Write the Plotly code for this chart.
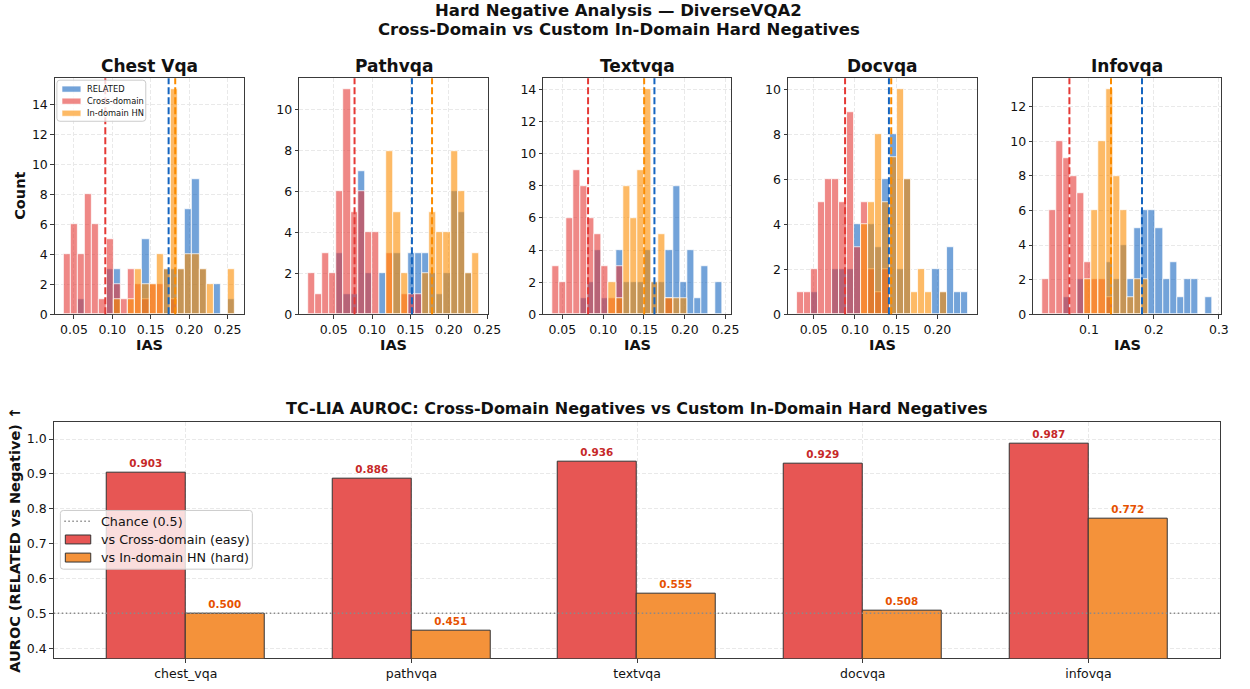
import plotly.graph_objects as go

W, H = 1250, 689
FONT = "DejaVu Sans"

# ---------------------------------------------------------------- data
DATASETS = ["chest_vqa", "pathvqa", "textvqa", "docvqa", "infovqa"]
PANEL_TITLES = ["Chest Vqa", "Pathvqa", "Textvqa", "Docvqa", "Infovqa"]

# TC-LIA AUROC (RELATED vs negative)
AUROC_CROSS = [0.903, 0.886, 0.936, 0.929, 0.987]
AUROC_HARD = [0.500, 0.451, 0.555, 0.508, 0.772]
CHANCE = 0.5

# IAS histograms: 24 equal-width bins between min and max per dataset
N_BINS = 24
IAS_BIN_MIN = [0.0363, 0.0161, 0.0371, 0.0292, 0.0275]
IAS_BIN_MAX = [0.2599, 0.2398, 0.2464, 0.2373, 0.2904]

COUNTS_RELATED = [
    [0, 0, 1, 0, 0, 0, 3, 3, 0, 0, 0, 5, 0, 0, 3, 3, 3, 7, 9, 3, 0, 2, 0, 1],
    [0, 0, 0, 0, 3, 1, 1, 7, 2, 0, 2, 0, 3, 0, 3, 3, 3, 2, 1, 2, 6, 5, 2, 0],
    [0, 0, 0, 0, 1, 2, 4, 1, 0, 4, 2, 2, 2, 4, 2, 2, 4, 8, 2, 4, 1, 3, 0, 2],
    [0, 0, 1, 0, 0, 2, 2, 2, 4, 0, 4, 3, 6, 8, 2, 6, 0, 0, 0, 2, 1, 3, 1, 1],
    [0, 0, 0, 1, 0, 2, 0, 0, 0, 3, 2, 4, 2, 5, 6, 6, 5, 2, 3, 1, 2, 2, 0, 1],
]
COUNTS_CROSS = [
    [4, 6, 4, 8, 6, 1, 5, 2, 1, 3, 2, 1, 2, 2, 0, 1, 0, 0, 0, 0, 0, 0, 0, 0],
    [2, 1, 3, 2, 6, 11, 5, 6, 4, 4, 0, 3, 0, 1, 1, 1, 0, 0, 0, 0, 0, 0, 0, 0],
    [3, 2, 6, 9, 8, 6, 5, 3, 1, 3, 0, 0, 0, 0, 0, 0, 1, 0, 0, 0, 0, 0, 0, 0],
    [1, 1, 2, 5, 6, 6, 5, 9, 3, 5, 2, 1, 2, 0, 0, 0, 0, 0, 0, 0, 0, 0, 0, 0],
    [2, 6, 10, 9, 8, 7, 3, 2, 2, 1, 0, 0, 0, 0, 0, 0, 0, 0, 0, 0, 0, 0, 0, 0],
]
COUNTS_HARD = [
    [0, 0, 0, 0, 0, 0, 0, 1, 0, 1, 3, 2, 2, 4, 3, 15, 3, 4, 4, 3, 2, 0, 0, 3],
    [0, 0, 0, 0, 0, 0, 0, 0, 0, 0, 0, 8, 5, 2, 0, 0, 2, 5, 4, 4, 8, 6, 2, 3],
    [0, 0, 0, 0, 0, 0, 0, 0, 2, 1, 8, 6, 9, 14, 2, 5, 1, 1, 1, 0, 0, 0, 0, 0],
    [0, 0, 0, 0, 0, 0, 0, 0, 0, 4, 5, 8, 5, 7, 10, 6, 1, 2, 1, 0, 1, 0, 0, 0],
    [0, 0, 0, 0, 0, 0, 2, 6, 10, 13, 8, 6, 1, 2, 2, 0, 0, 0, 0, 0, 0, 0, 0, 0],
]

# group mean IAS (dashed lines)
MEAN_RELATED = [0.1732, 0.1519, 0.1628, 0.1412, 0.1817]
MEAN_CROSS = [0.0908, 0.0771, 0.0815, 0.0880, 0.0700]
MEAN_HARD = [0.1818, 0.1781, 0.1502, 0.1440, 0.1340]

X_TICKS = [
    [0.05, 0.10, 0.15, 0.20, 0.25],
    [0.05, 0.10, 0.15, 0.20, 0.25],
    [0.05, 0.10, 0.15, 0.20, 0.25],
    [0.05, 0.10, 0.15, 0.20],
    [0.1, 0.2, 0.3],
]
X_TICK_LABELS = [
    ["0.05", "0.10", "0.15", "0.20", "0.25"],
    ["0.05", "0.10", "0.15", "0.20", "0.25"],
    ["0.05", "0.10", "0.15", "0.20", "0.25"],
    ["0.05", "0.10", "0.15", "0.20"],
    ["0.1", "0.2", "0.3"],
]
AUROC_TICKS = [0.4, 0.5, 0.6, 0.7, 0.8, 0.9, 1.0]
AUROC_TICK_LABELS = ["0.4", "0.5", "0.6", "0.7", "0.8", "0.9", "1.0"]

# ---------------------------------------------------------------- style
C_REL = (21, 101, 192)
C_CROSS = (229, 57, 53)
C_HARD = (251, 140, 0)
HIST_ALPHA = 0.6

BAR_RED = "#e75654"
BAR_ORANGE = "#f4923a"
LABEL_RED = "#c62828"
LABEL_ORANGE = "#e65100"
CHANCE_COLOR = "#8a8a8a"

GRID = "#e9e9e9"
GRID_DASH = "4px,2px"
SPINE = "#3a3a3a"
TEXT = "#111111"


def rgba(c, a):
    return f"rgba({c[0]},{c[1]},{c[2]},{a})"


def px(x, y):
    """pixel position -> paper coordinates"""
    return x / W, 1 - y / H


# axes boxes in pixels
HIST_X_PX = [(55.4, 246.4), (302.3, 493.1), (549.0, 738.9), (796.3, 987.0), (1044.1, 1234.0)]
HIST_Y_PX = (79.0, 317.5)     # top, bottom
BAR_X_PX = (54.3, 1233.3)
BAR_Y_PX = (426.0, 665.0)


def xdom(p):
    return [p[0] / W, p[1] / W]


def ydom(top, bottom):
    return [1 - bottom / H, 1 - top / H]


def axis_style():
    return dict(
        showgrid=True, gridcolor=GRID, griddash=GRID_DASH, gridwidth=0.8,
        showline=True, mirror=True, linecolor=SPINE, linewidth=1,
        ticks="outside", ticklen=3.5, tickcolor=SPINE, tickwidth=0.8,
        zeroline=False, tickfont=dict(size=12.5), layer="below traces",
    )


fig = go.Figure()
layout = dict(
    width=W, height=H,
    margin=dict(l=0, r=0, t=0, b=0),
    paper_bgcolor="white", plot_bgcolor="white",
    font=dict(family=FONT, size=12.5, color=TEXT),
    barmode="overlay", bargap=0, showlegend=False,
)

annotations = []
shapes = []

series = [
    ("RELATED", COUNTS_RELATED, C_REL, MEAN_RELATED),
    ("Cross-domain", COUNTS_CROSS, C_CROSS, MEAN_CROSS),
    ("In-domain HN", COUNTS_HARD, C_HARD, MEAN_HARD),
]

for k in range(5):
    ax = "" if k == 0 else str(k + 1)
    lo, hi = IAS_BIN_MIN[k], IAS_BIN_MAX[k]
    bw = (hi - lo) / N_BINS
    centers = [lo + bw * (i + 0.5) for i in range(N_BINS)]
    ymax = 0
    for name, counts, col, _ in series:
        ys = [c if c > 0 else None for c in counts[k]]
        ymax = max(ymax, max(counts[k]))
        fig.add_trace(go.Bar(
            x=centers, y=ys, width=bw, name=name,
            marker=dict(color=rgba(col, HIST_ALPHA),
                        line=dict(color="rgba(255,255,255,0.85)", width=0.9)),
            xaxis="x" + ax, yaxis="y" + ax, hoverinfo="skip",
        ))
    # dashed group means
    for name, _, col, means in series:
        shapes.append(dict(
            type="line", xref="x" + ax, yref=f"y{ax} domain",
            x0=means[k], x1=means[k], y0=0, y1=1,
            line=dict(color=rgba(col, 1), width=2, dash="7px,3px"),
            layer="above",
        ))

    pad = 0.05 * (hi - lo)
    layout["xaxis" + ax] = dict(
        domain=xdom(HIST_X_PX[k]), anchor="y" + ax,
        range=[lo - pad, hi + pad],
        tickvals=X_TICKS[k], ticktext=X_TICK_LABELS[k], **axis_style(),
    )
    layout["yaxis" + ax] = dict(
        domain=ydom(*HIST_Y_PX), anchor="x" + ax,
        range=[0, ymax * 1.05], dtick=2, tick0=0, **axis_style(),
    )
    cx = (HIST_X_PX[k][0] + HIST_X_PX[k][1]) / 2 / W
    annotations.append(dict(
        text=f"<b>{PANEL_TITLES[k]}</b>", x=cx, y=1 - 67 / H,
        xref="paper", yref="paper", showarrow=False,
        xanchor="center", yanchor="middle", font=dict(size=17),
    ))
    annotations.append(dict(
        text="<b>IAS</b>", x=cx, y=1 - 349 / H,
        xref="paper", yref="paper", showarrow=False,
        xanchor="center", yanchor="middle", font=dict(size=14.5),
    ))

annotations.append(dict(
    text="<b>Count</b>", x=20 / W, y=1 - 198 / H, textangle=-90,
    xref="paper", yref="paper", showarrow=False,
    xanchor="center", yanchor="middle", font=dict(size=14.5),
))

# ---------------------------------------------------------------- AUROC bars
BW = 0.35
idx = list(range(len(DATASETS)))
span = len(idx) - 1 + 2 * BW
x_lo = -BW - 0.05 * span
x_hi = len(idx) - 1 + BW + 0.05 * span

fig.add_trace(go.Scatter(
    x=[x_lo, x_hi], y=[CHANCE, CHANCE], mode="lines", name="Chance (0.5)",
    line=dict(color=CHANCE_COLOR, width=1.5, dash="1.5px,2.5px"),
    xaxis="x6", yaxis="y6", hoverinfo="skip",
))
fig.add_trace(go.Bar(
    x=[i - BW / 2 for i in idx], y=AUROC_CROSS, width=BW,
    name="vs Cross-domain (easy)",
    marker=dict(color=BAR_RED, line=dict(color="#333333", width=1)),
    texttemplate="<b>%{y:.3f}</b>", textposition="outside",
    textfont=dict(color=LABEL_RED, size=10.4), cliponaxis=False,
    xaxis="x6", yaxis="y6", hoverinfo="skip",
))
fig.add_trace(go.Bar(
    x=[i + BW / 2 for i in idx], y=AUROC_HARD, width=BW,
    name="vs In-domain HN (hard)",
    marker=dict(color=BAR_ORANGE, line=dict(color="#333333", width=1)),
    texttemplate="<b>%{y:.3f}</b>", textposition="outside",
    textfont=dict(color=LABEL_ORANGE, size=10.4), cliponaxis=False,
    xaxis="x6", yaxis="y6", hoverinfo="skip",
))

layout["xaxis6"] = dict(
    domain=xdom(BAR_X_PX), anchor="y6", range=[x_lo, x_hi],
    tickvals=idx, ticktext=DATASETS, **axis_style(),
)
layout["yaxis6"] = dict(
    domain=ydom(*BAR_Y_PX), anchor="x6",
    range=[min(AUROC_HARD + AUROC_CROSS) - 0.08, 1.05],
    tickvals=AUROC_TICKS, ticktext=AUROC_TICK_LABELS, **axis_style(),
)

annotations.append(dict(
    text="<b>TC-LIA AUROC: Cross-Domain Negatives vs Custom In-Domain Hard Negatives</b>",
    x=(BAR_X_PX[0] + BAR_X_PX[1]) / 2 / W, y=1 - 413 / H,
    xref="paper", yref="paper", showarrow=False,
    xanchor="center", yanchor="middle", font=dict(size=16),
))
annotations.append(dict(
    text="<b>AUROC (RELATED vs Negative) ↑</b>", x=15 / W,
    y=1 - (BAR_Y_PX[0] + BAR_Y_PX[1]) / 2 / H, textangle=-90,
    xref="paper", yref="paper", showarrow=False,
    xanchor="center", yanchor="middle", font=dict(size=14.5),
))

# ---------------------------------------------------------------- figure title
annotations.append(dict(
    text="<b>Hard Negative Analysis — DiverseVQA2</b>", x=0.5, y=1 - 11 / H,
    xref="paper", yref="paper", showarrow=False,
    xanchor="center", yanchor="middle", font=dict(size=16.5),
))
annotations.append(dict(
    text="<b>Cross-Domain vs Custom In-Domain Hard Negatives</b>", x=0.5, y=1 - 30 / H,
    xref="paper", yref="paper", showarrow=False,
    xanchor="center", yanchor="middle", font=dict(size=16.5),
))


# ---------------------------------------------------------------- legends
def legend_box(x0, y0, x1, y1, r=3):
    ax0, ay0 = px(x0, y0)
    ax1, ay1 = px(x1, y1)
    rx, ry = r / W, r / H
    path = (f"M {ax0 + rx},{ay0} L {ax1 - rx},{ay0} Q {ax1},{ay0} {ax1},{ay0 - ry} "
            f"L {ax1},{ay1 + ry} Q {ax1},{ay1} {ax1 - rx},{ay1} "
            f"L {ax0 + rx},{ay1} Q {ax0},{ay1} {ax0},{ay1 + ry} "
            f"L {ax0},{ay0 - ry} Q {ax0},{ay0} {ax0 + rx},{ay0} Z")
    return dict(type="path", xref="paper", yref="paper", path=path,
                fillcolor="rgba(255,255,255,0.8)",
                line=dict(color="#cccccc", width=1), layer="above")


def legend_patch(x0, x1, yc, h, fill, edge, ew):
    a0, b0 = px(x0, yc - h / 2)
    a1, b1 = px(x1, yc + h / 2)
    return dict(type="rect", xref="paper", yref="paper",
                x0=a0, x1=a1, y0=b1, y1=b0, fillcolor=fill,
                line=dict(color=edge, width=ew), layer="above")


def legend_text(text, x, yc, size):
    a, b = px(x, yc)
    return dict(text=text, x=a, y=b, xref="paper", yref="paper",
                showarrow=False, xanchor="left", yanchor="middle",
                font=dict(size=size))


# histogram legend (first panel)
shapes.append(legend_box(57.5, 81.0, 147.3, 122.5))
for j, (name, _, col, _) in enumerate(series):
    yc = 90.0 + j * 12.2
    shapes.append(legend_patch(62.7, 81.7, yc, 6.0, rgba(col, HIST_ALPHA),
                               "rgba(255,255,255,0.85)", 0.6))
    annotations.append(legend_text(name, 85.5, yc, 8.3))

# AUROC legend
shapes.append(legend_box(61.0, 515.7, 255.0, 575.0))
ya = 526.7
la, lb = px(65.0, ya)
lc, _ = px(91.7, ya)
shapes.append(dict(type="line", xref="paper", yref="paper", x0=la, x1=lc, y0=lb, y1=lb,
                   line=dict(color=CHANCE_COLOR, width=1.5, dash="1.5px,2.5px"),
                   layer="above"))
annotations.append(legend_text("Chance (0.5)", 100.5, ya, 12.7))
for yc, fill, label in [(545.0, BAR_RED, "vs Cross-domain (easy)"),
                        (563.3, BAR_ORANGE, "vs In-domain HN (hard)")]:
    shapes.append(legend_patch(66.0, 91.7, yc, 9.0, fill, "#333333", 1))
    annotations.append(legend_text(label, 100.5, yc, 12.7))

layout["annotations"] = annotations
layout["shapes"] = shapes

fig.update_layout(**layout)
fig.write_html("out.html")
